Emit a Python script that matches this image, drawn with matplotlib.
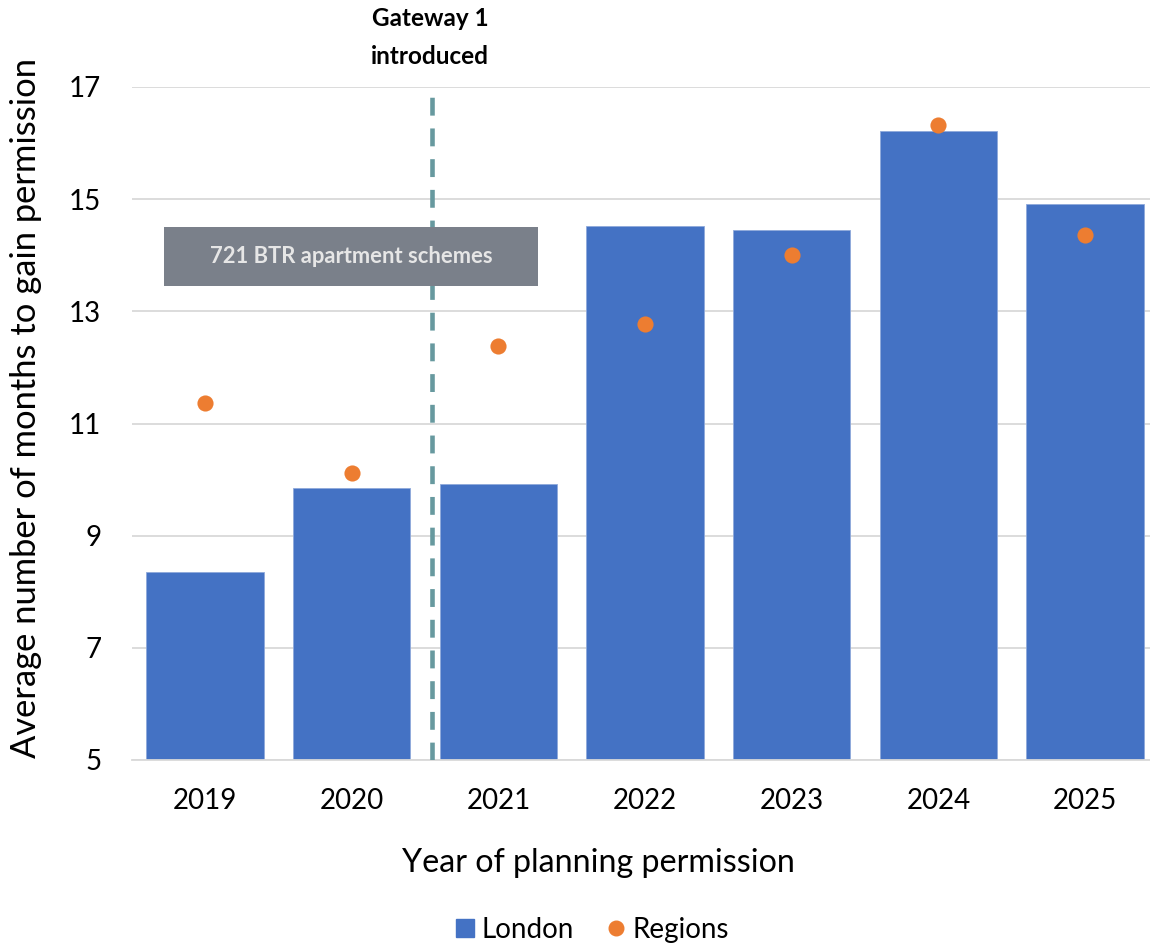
import matplotlib
matplotlib.use('Agg')
from matplotlib import pyplot as plt
from matplotlib.patches import Rectangle
from matplotlib.lines import Line2D
import numpy as np

plt.rcParams['font.family'] = ['Lato', 'DejaVu Sans']

years = ['2019', '2020', '2021', '2022', '2023', '2024', '2025']
london = [8.35, 9.85, 9.92, 14.52, 14.45, 16.21, 14.91]
regions = [11.37, 10.12, 12.39, 12.77, 14.0, 16.32, 14.36]
yticks = [5, 7, 9, 11, 13, 15, 17]

blue = '#4472C4'
orange = '#ED7D31'

fig = plt.figure(figsize=(11.5, 9.46), dpi=100)
ax = fig.add_axes([131.7/1150, (946-760)/946, 1026.7/1150, 673/946])

x = np.arange(len(years))
ax.bar(x, [v - 5 for v in london], bottom=5, width=0.8, color=blue,
       edgecolor='#8EA9DB', linewidth=0.6, zorder=2)
ax.scatter(x, regions, s=135, color=orange, zorder=4, linewidths=0)

# Gateway 1 line
ax.plot([1.545, 1.545], [5, 16.88], color='#67999F', lw=3.3,
        linestyle=(0, (3.9, 2.8)), zorder=3)

# annotation box
ax.add_patch(Rectangle((-0.28, 13.45), 2.55, 1.05, facecolor='#7A808A',
                       edgecolor='none', zorder=5))
ax.text(1.0, 13.98, '721 BTR apartment schemes', ha='center', va='center',
        fontsize=15.8, fontweight='bold', color='#E6E6E6', zorder=6)

fig.text(430/1150, 1 - 18/946, 'Gateway 1', ha='center', va='center',
         fontsize=17.5, fontweight='bold')
fig.text(430/1150, 1 - 57/946, 'introduced', ha='center', va='center',
         fontsize=17.5, fontweight='bold')

ax.set_xlim(-0.5, 6.5)
ax.set_ylim(5, 17)
ax.set_yticks(yticks)
ax.set_xticks(x)
ax.set_xticklabels(years)
ax.grid(axis='y', color='#D9D9D9', lw=1.3, zorder=0)
ax.set_axisbelow(True)
for s in ['top', 'right', 'left']:
    ax.spines[s].set_visible(False)
ax.spines['bottom'].set_color('#D9D9D9')
ax.spines['bottom'].set_linewidth(1.3)
ax.tick_params(axis='both', labelsize=20, length=0)
ax.tick_params(axis='x', pad=20)
ax.tick_params(axis='y', pad=22)

fig.text(598/1150, 1 - 863/946, 'Year of planning permission',
         ha='center', va='center', fontsize=23.2)
fig.text(26/1150, 1 - 408/946, 'Average number of months to gain permission',
         ha='center', va='center', rotation=90, fontsize=24.8)

handles = [Line2D([], [], marker='s', color=blue, ls='none', markersize=13),
           Line2D([], [], marker='o', color=orange, ls='none', markersize=10.5)]
fig.legend(handles, ['London', 'Regions'], loc='center',
           bbox_to_anchor=(590/1150, 1 - 930/946), ncol=2, frameon=False,
           fontsize=20, handletextpad=0.1, columnspacing=1.0, handlelength=1.0)

fig.savefig('out.png', dpi=100)
